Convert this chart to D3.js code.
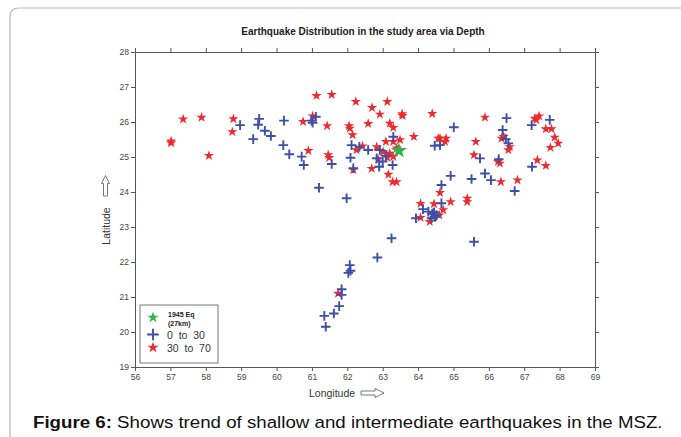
<!DOCTYPE html>
<html><head><meta charset="utf-8">
<script src="https://cdn.jsdelivr.net/npm/d3@7"></script>
<style>
html,body{margin:0;padding:0;background:#fff;}
svg{display:block;font-family:Arial,"Liberation Sans",sans-serif;}
</style></head>
<body>
<svg id="chart" width="681" height="437"></svg>
<script>
// ---- data ----
const title = "Earthquake Distribution in the study area via Depth";
const xLabel = "Longitude";
const yLabel = "Latitude";
const xTicks = [56,57,58,59,60,61,62,63,64,65,66,67,68,69];
const yTicks = [19,20,21,22,23,24,25,26,27,28];
const legendLabels = ["1945 Eq", "(27km)", "0  to  30", "30  to  70"];
const captionBold = "Figure 6:";
const captionText = " Shows trend of shallow and intermediate earthquakes in the MSZ.";

// 1945 earthquake (lon, lat)
const eq1945 = [[63.46, 25.18]];

// depth 0 to 30 km (lon, lat)
const shallowLon = [58.97,59.51,59.48,59.34,59.67,59.84,60.21,60.19,60.36,60.71,60.77,60.99,61.11,61.02,61.20,61.56,
  62.12,62.34,62.09,62.17,62.59,62.92,62.83,62.90,63.09,63.30,63.28,63.00,64.47,61.98,65.01,66.50,67.72,67.21,66.39,
  66.48,66.55,64.62,65.75,66.28,67.22,64.92,65.51,65.89,66.06,66.73,64.66,64.66,64.14,64.29,64.43,64.47,64.38,63.94,
  64.52,64.40,64.50,64.45,63.25,65.58,62.85,62.07,62.09,62.03,61.84,61.84,61.77,61.62,61.35,61.39];
const shallowLat = [25.91,26.09,25.92,25.51,25.75,25.60,26.04,25.34,25.08,25.01,24.77,26.04,26.15,25.98,24.12,24.80,
  25.34,25.29,24.98,24.68,25.20,25.20,24.96,24.72,25.04,25.58,24.77,24.87,25.32,23.82,25.85,26.11,26.06,25.91,25.77,
  25.51,25.39,25.34,24.96,24.94,24.72,24.46,24.37,24.53,24.34,24.03,24.20,23.68,23.51,23.44,23.39,23.29,23.25,23.25,
  23.34,23.38,23.30,23.42,22.68,22.58,22.13,21.91,21.75,21.69,21.22,21.06,20.74,20.53,20.46,20.15];

// depth 30 to 70 km (lon, lat)
const interLon = [57.02,57.02,57.36,57.88,58.09,58.78,58.75,60.75,61.02,61.13,61.56,61.43,60.90,61.46,61.49,
  62.24,62.70,63.13,62.92,63.55,63.56,64.40,62.05,62.07,62.59,63.20,63.30,62.15,63.88,64.57,63.49,63.30,63.09,
  62.26,62.43,62.83,63.01,63.20,63.13,62.87,63.30,63.40,62.17,62.69,63.16,63.28,63.39,64.62,65.89,64.62,64.79,64.76,
  65.63,65.58,66.26,66.31,66.42,66.36,66.59,66.55,67.30,67.42,67.34,67.61,67.77,67.86,67.96,67.74,67.37,67.61,
  66.34,66.81,64.92,65.39,65.39,64.07,64.45,64.71,64.60,64.07,64.33,61.74];
const interLat = [25.45,25.40,26.08,26.13,25.04,26.09,25.72,26.01,26.17,26.75,26.78,25.89,25.18,25.06,24.98,
  26.58,26.41,26.58,26.22,26.23,26.18,26.24,25.89,25.82,25.95,25.96,25.84,25.63,25.58,25.53,25.49,25.44,25.44,
  25.20,25.31,25.29,25.15,25.10,24.98,24.94,25.01,25.25,24.63,24.67,24.50,24.29,24.29,23.98,26.13,25.53,25.53,25.44,
  25.44,25.06,24.87,24.82,25.58,25.53,25.29,25.20,26.10,26.17,26.06,25.80,25.80,25.56,25.39,25.27,24.91,24.75,
  24.29,24.34,23.72,23.82,23.72,23.67,23.66,23.49,23.34,23.27,23.15,21.10];

// ---- styles ----
const RED = "#ee2a2f", BLUE = "#3d4fa6", GREEN = "#2fb34c", AXIS = "#555";

const svg = d3.select("#chart");
const x = d3.scaleLinear().domain([56, 69]).range([135, 595]);
const y = d3.scaleLinear().domain([19, 28]).range([367, 52]);

// outer frame with rounded corner
svg.append("path")
  .attr("d", "M10,437 L10,17 Q10,8 19,8 L681,8")
  .attr("fill", "none").attr("stroke", "#b8b8b8").attr("stroke-width", 1.2);

// title
svg.append("text").attr("x", 363).attr("y", 34.5).attr("text-anchor", "middle")
  .attr("font-size", 10).attr("font-weight", "bold").attr("fill", "#222").text(title);

// axes
function styleAxis(g) {
  g.select(".domain").attr("stroke", AXIS);
  g.selectAll(".tick line").attr("stroke", AXIS);
  g.selectAll(".tick text").attr("fill", "#444").attr("font-size", 8.5)
    .attr("font-family", "Arial, 'Liberation Sans', sans-serif");
}
svg.append("g").attr("transform", "translate(0,367)")
  .call(d3.axisBottom(x).tickValues(xTicks).tickFormat(d3.format("d")).tickSize(4).tickSizeOuter(0).tickPadding(3))
  .call(styleAxis);
svg.append("g").attr("transform", "translate(0,52)")
  .call(d3.axisTop(x).tickValues(xTicks).tickFormat("").tickSize(4).tickSizeOuter(0))
  .call(styleAxis);
svg.append("g").attr("transform", "translate(135,0)")
  .call(d3.axisLeft(y).tickValues(yTicks).tickFormat(d3.format("d")).tickSize(4).tickSizeOuter(0).tickPadding(2))
  .call(styleAxis);
svg.append("g").attr("transform", "translate(595,0)")
  .call(d3.axisRight(y).tickValues(yTicks).tickFormat("").tickSize(4).tickSizeOuter(0))
  .call(styleAxis);

// axis labels with hollow arrows
svg.append("text").attr("x", 309).attr("y", 396.5).attr("font-size", 10.5).attr("fill", "#333").text(xLabel);
svg.append("path")
  .attr("d", "M361,391 L375,391 L375,388.5 L384,393 L375,397.5 L375,395 L361,395 Z")
  .attr("fill", "#fff").attr("stroke", "#666").attr("stroke-width", 0.9);
svg.append("text").attr("transform", "translate(109.5,226) rotate(-90)").attr("text-anchor", "middle")
  .attr("font-size", 10.5).attr("fill", "#333").text(yLabel);
svg.append("path")
  .attr("d", "M103.5,196 L103.5,183.5 L101.5,183.5 L105.5,175.5 L109.5,183.5 L107.5,183.5 L107.5,196 Z")
  .attr("fill", "#fff").attr("stroke", "#666").attr("stroke-width", 0.9);

// markers
const star = (r) => d3.symbol().type(d3.symbolStar).size(r * r / 0.8908130915292852)();
const crossPath = (h) => `M${-h},0L${h},0M0,${-h}L0,${h}`;

const shallow = shallowLon.map((d, i) => [d, shallowLat[i]]);
const inter = interLon.map((d, i) => [d, interLat[i]]);

svg.append("g").selectAll("path").data(inter).join("path")
  .attr("transform", d => `translate(${x(d[0])},${y(d[1])})`)
  .attr("d", star(5.4)).attr("fill", RED);
svg.append("g").selectAll("path").data(shallow).join("path")
  .attr("transform", d => `translate(${x(d[0])},${y(d[1])})`)
  .attr("d", crossPath(4.8)).attr("stroke", BLUE).attr("stroke-width", 1.9).attr("fill", "none");
svg.append("g").selectAll("path").data(eq1945).join("path")
  .attr("transform", d => `translate(${x(d[0])},${y(d[1])})`)
  .attr("d", star(8.5)).attr("fill", GREEN);

// legend
const lg = svg.append("g");
lg.append("rect").attr("x", 140).attr("y", 305).attr("width", 78).attr("height", 58)
  .attr("fill", "#fff").attr("stroke", "#777").attr("stroke-width", 1);
lg.append("path").attr("transform", "translate(153,317.5)").attr("d", star(6)).attr("fill", GREEN);
lg.append("text").attr("x", 168).attr("y", 317).attr("font-size", 7).attr("font-weight", "bold").attr("fill", "#222").text(legendLabels[0]);
lg.append("text").attr("x", 168).attr("y", 326).attr("font-size", 7).attr("font-weight", "bold").attr("fill", "#222").text(legendLabels[1]);
lg.append("path").attr("transform", "translate(153,334.5)").attr("d", crossPath(5.8))
  .attr("stroke", BLUE).attr("stroke-width", 1.9).attr("fill", "none");
lg.append("text").attr("x", 167).attr("y", 338.5).attr("font-size", 10.5).attr("fill", "#333")
  .style("white-space", "pre").text(legendLabels[2]);
lg.append("path").attr("transform", "translate(153,347.5)").attr("d", star(6)).attr("fill", RED);
lg.append("text").attr("x", 167).attr("y", 352).attr("font-size", 10.5).attr("fill", "#333")
  .style("white-space", "pre").text(legendLabels[3]);

// caption (stretched horizontally to match the reference width)
const cap = svg.append("text").attr("x", 0).attr("y", 0).attr("font-size", 17).attr("fill", "#111");
cap.append("tspan").attr("font-weight", "bold").text(captionBold);
cap.append("tspan").text(captionText);
const capW = cap.node().getComputedTextLength();
cap.attr("transform", `translate(33,428) scale(${630 / capW},1)`);
</script>
</body></html>
